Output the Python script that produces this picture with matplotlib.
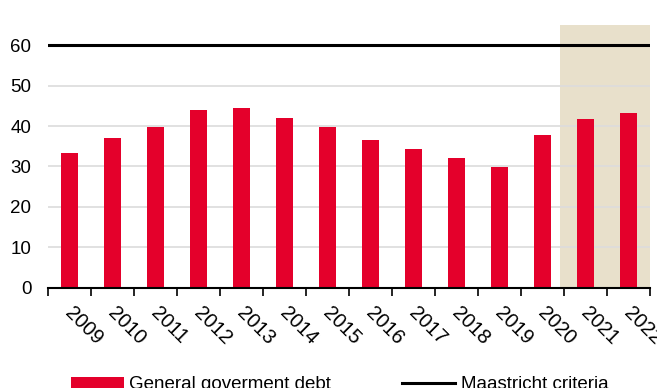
import matplotlib
matplotlib.use("Agg")
import matplotlib.pyplot as plt
import matplotlib.transforms as mtransforms
from matplotlib.patches import Patch
from matplotlib.lines import Line2D

plt.rcParams['font.family'] = ['Liberation Sans', 'DejaVu Sans']

years = ["2009", "2010", "2011", "2012", "2013", "2014", "2015",
         "2016", "2017", "2018", "2019", "2020", "2021", "2022"]
debt = [33.4, 37.0, 39.7, 44.0, 44.4, 42.1, 39.7,
        36.5, 34.2, 32.2, 29.8, 37.7, 41.7, 43.3]
maastricht = 60
forecast_years = ["2021", "2022"]

red = "#e4002b"
fig = plt.figure(figsize=(6.57, 3.88), dpi=100)
ax = fig.add_axes([0.073, 0.2585, 0.916, 0.677])

x = list(range(len(years)))
ax.set_xlim(-0.5, len(years) - 0.5)
ax.set_ylim(0, 65)

# forecast shading
first_fc = years.index(forecast_years[0])
ax.axvspan(first_fc - 0.6, len(years) - 0.5, color="#e8e0cb", zorder=0, lw=0)

ax.bar(x, debt, width=0.4, color=red, zorder=2)
ax.axhline(maastricht, color="black", lw=2.2, zorder=3)

ax.set_yticks(range(0, 61, 10))
ax.yaxis.grid(True, color="#dcdcdc", lw=1.2, zorder=1)
ax.set_axisbelow(True)
ax.tick_params(axis="y", length=0, labelsize=13.5, pad=12)

ax.set_xticks([i - 0.5 for i in range(len(years) + 1)], minor=False)
ax.set_xticklabels([""] * (len(years) + 1))
ax.tick_params(axis="x", which="major", length=6, direction="out", width=1.2)
ax.set_xticks(x, minor=True)
ax.set_xticklabels(years, minor=True, rotation=-45, ha="left", va="top",
                   rotation_mode="anchor", fontsize=14.5)
ax.tick_params(axis="x", which="minor", length=0, pad=11)

# nudge the year labels a little to the right
shift = mtransforms.ScaledTranslation(5 / 100, 0, fig.dpi_scale_trans)
for lbl in ax.get_xticklabels(minor=True):
    lbl.set_transform(lbl.get_transform() + shift)

for s in ["left", "right", "top"]:
    ax.spines[s].set_visible(False)
ax.spines["bottom"].set_linewidth(1.5)

handles = [Patch(facecolor=red, label="General goverment debt"),
           Line2D([0], [0], color="black", lw=2.2, label="Maastricht criteria")]
fig.legend(handles=handles, loc="center", bbox_to_anchor=(0.517, 0.008),
           ncol=2, frameon=False, fontsize=13.5, handlelength=2.8,
           handleheight=0.5, columnspacing=3.8, handletextpad=0.3)

fig.savefig("out.png", dpi=100)
